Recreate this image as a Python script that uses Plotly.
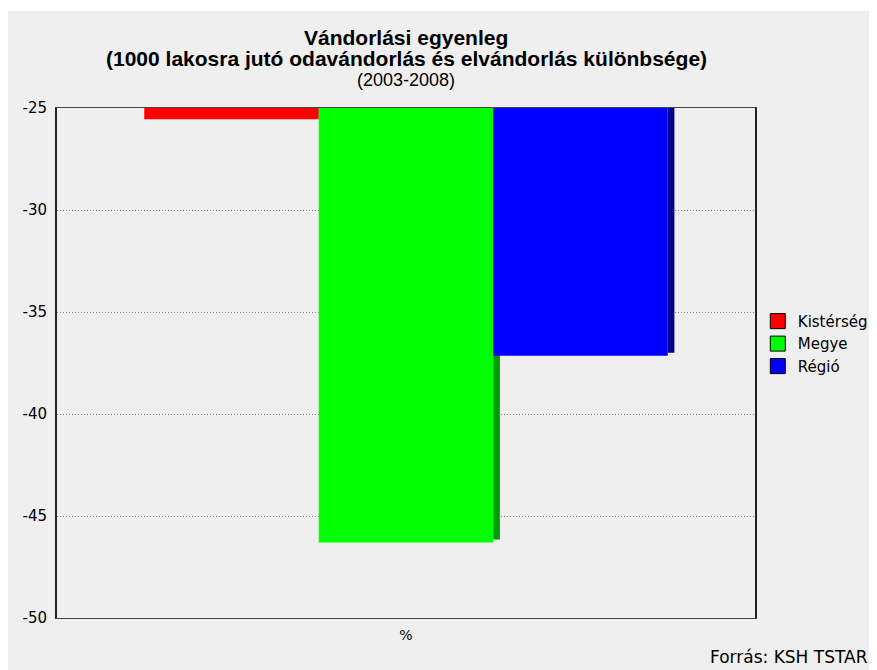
import plotly.graph_objects as go

categories = ["%"]
series_names = ["Kistérség", "Megye", "Régió"]
series_values = [-25.55, -46.3, -37.15]
bar_colors = ["#ff0000", "#00ff00", "#0000ff"]
shadow_colors = ["#990000", "#009900", "#00008c"]
y_ticks = [-50, -45, -40, -35, -30, -25]
y_tick_labels = ["-50", "-45", "-40", "-35", "-30", "-25"]

title_lines = ["Vándorlási egyenleg",
               "(1000 lakosra jutó odavándorlás és elvándorlás különbsége)"]
subtitle = "(2003-2008)"
source_text = "Forrás: KSH TSTAR"

bar_width = 0.25
shadow_width = 0.0095
shadow_lift = 0.15  # shadow ends a little above the bar bottom (3d look)

fig = go.Figure()

for i, (name, val) in enumerate(zip(series_names, series_values)):
    off = -0.375 + i * bar_width
    fig.add_trace(go.Bar(x=categories, y=[val], name=name,
                         marker=dict(color=bar_colors[i], line=dict(width=0)),
                         width=bar_width, offset=off,
                         showlegend=False, hoverinfo="skip"))
    fig.add_trace(go.Bar(x=categories, y=[val + shadow_lift],
                         marker=dict(color=shadow_colors[i], line=dict(width=0)),
                         width=shadow_width, offset=off + bar_width,
                         showlegend=False, hoverinfo="skip"))

# legend-only entries (square swatch with black border)
for name, col in zip(series_names, bar_colors):
    fig.add_trace(go.Scatter(x=[None], y=[None], name=name, mode="markers",
                             marker=dict(symbol="square", size=15, color=col,
                                         line=dict(color="black", width=1))))

fig.update_xaxes(type="category", range=[-0.5, 0.5],
                 showgrid=False, ticks="", ticklabelstandoff=4,
                 showline=True, linecolor="#444", linewidth=1, mirror=True,
                 tickfont=dict(family="DejaVu Sans", size=14, color="black"))

fig.update_yaxes(range=[-50, -25], tickvals=y_ticks, ticktext=y_tick_labels,
                 showgrid=True, gridcolor="#858585", gridwidth=1, griddash="1px,2px",
                 zeroline=False, ticks="",
                 showline=True, linecolor="#222", linewidth=2, mirror=True,
                 ticklabelstandoff=5,
                 tickfont=dict(family="DejaVu Sans", size=15, color="black"))

title_font = dict(family="Liberation Sans, Arial", size=21, color="black")

fig.update_layout(
    width=877, height=670,
    barmode="overlay",
    font=dict(family="DejaVu Sans", size=14, color="black"),
    paper_bgcolor="white",
    plot_bgcolor="rgba(0,0,0,0)",
    margin=dict(l=49, r=120, t=100, b=60),
    legend=dict(x=1.004, y=0.614, xanchor="left", yanchor="top",
                bgcolor="rgba(0,0,0,0)", borderwidth=0,
                font=dict(family="DejaVu Sans", size=15, color="black"),
                itemwidth=30, tracegroupgap=0),
    shapes=[dict(type="rect", xref="paper", yref="paper", layer="below",
                 x0=-0.08, x1=1.25, y0=-0.2, y1=1.19,
                 fillcolor="#efefef", line=dict(width=0))],
    annotations=[
        dict(text="<b>" + title_lines[0] + "</b>", xref="paper", yref="paper",
             x=0.5, y=1.139, xanchor="center", yanchor="middle", showarrow=False,
             font=title_font),
        dict(text="<b>" + title_lines[1] + "</b>", xref="paper", yref="paper",
             x=0.5, y=1.098, xanchor="center", yanchor="middle", showarrow=False,
             font=title_font),
        dict(text=subtitle, xref="paper", yref="paper", x=0.5, y=1.055,
             xanchor="center", yanchor="middle", showarrow=False,
             font=dict(family="Liberation Sans, Arial", size=18, color="black")),
        dict(text=source_text, xref="paper", yref="paper", x=1.1645, y=-0.0765,
             xanchor="right", yanchor="middle", showarrow=False,
             font=dict(family="DejaVu Sans", size=17, color="black")),
    ],
)

fig.write_html("out.html")
